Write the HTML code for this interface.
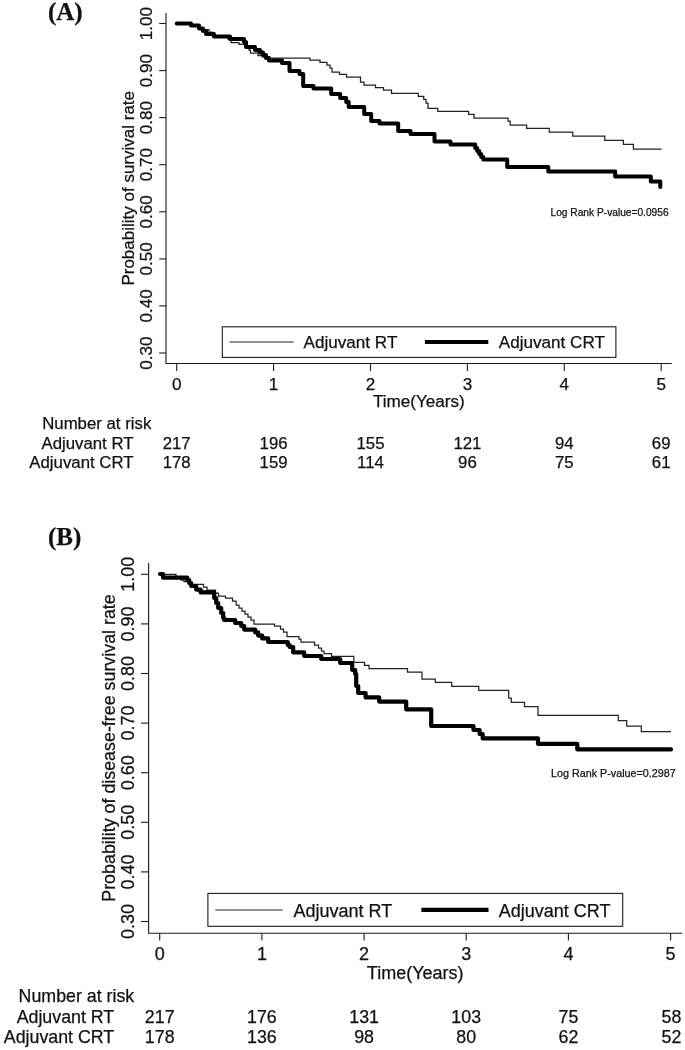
<!DOCTYPE html>
<html><head><meta charset="utf-8"><title>Kaplan-Meier survival curves</title>
<style>
html,body{margin:0;padding:0;background:#fff;}
svg{display:block;}
svg text{font-family:"Liberation Sans",Arial,sans-serif;fill:#111;stroke:#111;stroke-width:0.25px;}
</style></head>
<body>
<svg width="685" height="1050" viewBox="0 0 685 1050">
<rect width="685" height="1050" fill="#fff"/>
<g fill="none" stroke="#1a1a1a" stroke-width="1.1">
<path d="M166,13 V363.5 H671.7"/>
<path d="M159.2,23.5 H166"/>
<path d="M159.2,70.6 H166"/>
<path d="M159.2,117.6 H166"/>
<path d="M159.2,164.7 H166"/>
<path d="M159.2,211.8 H166"/>
<path d="M159.2,258.9 H166"/>
<path d="M159.2,305.9 H166"/>
<path d="M159.2,353.0 H166"/>
<path d="M176.7,363.5 V371"/>
<path d="M273.6,363.5 V371"/>
<path d="M370.5,363.5 V371"/>
<path d="M467.4,363.5 V371"/>
<path d="M564.3,363.5 V371"/>
<path d="M661.2,363.5 V371"/>
<rect x="222.3" y="326.8" width="393.6" height="30.6"/>
</g>
<path d="M176.7,23.5 L191.0,23.5 L191.0,25.6 L199.0,25.6 L199.0,28.4 L203.0,28.4 L203.0,29.6 L209.0,29.6 L209.0,32.0 L212.0,32.0 L212.0,34.0 L214.0,34.0 L214.0,36.4 L228.0,36.4 L228.0,39.0 L231.0,39.0 L231.0,42.6 L239.0,42.6 L239.0,44.4 L246.0,44.4 L246.0,47.0 L249.0,47.0 L249.0,50.0 L250.5,50.0 L250.5,53.0 L258.0,53.0 L258.0,55.5 L262.5,55.5 L262.5,57.0 L266.5,57.0 L266.5,58.0 L310.0,58.0 L310.0,60.0 L320.0,60.0 L320.0,62.4 L327.0,62.4 L327.0,65.0 L330.0,65.0 L330.0,68.0 L332.0,68.0 L332.0,72.0 L339.5,72.0 L339.5,74.4 L346.5,74.4 L346.5,77.0 L360.5,77.0 L360.5,82.0 L364.0,82.0 L364.0,85.0 L375.5,85.0 L375.5,87.6 L383.5,87.6 L383.5,90.0 L391.5,90.0 L391.5,93.4 L418.3,93.4 L418.3,96.4 L423.7,96.4 L423.7,99.4 L426.0,99.4 L426.0,103.0 L428.0,103.0 L428.0,108.4 L437.8,108.4 L437.8,111.4 L468.6,111.4 L468.6,114.4 L474.0,114.4 L474.0,118.0 L508.0,118.0 L508.0,121.0 L510.2,121.0 L510.2,125.0 L526.6,125.0 L526.6,128.4 L549.2,128.4 L549.2,132.0 L572.8,132.0 L572.8,136.0 L604.8,136.0 L604.8,140.4 L623.4,140.4 L623.4,144.4 L633.4,144.4 L633.4,149.2 L661.6,149.2" fill="none" stroke="#222" stroke-width="1.25"/>
<path d="M176.7,23.6 L191.0,23.6 L191.0,25.6 L199.0,25.6 L199.0,28.4 L203.0,28.4 L203.0,31.0 L206.0,31.0 L206.0,34.0 L214.0,34.0 L214.0,36.4 L230.0,36.4 L230.0,39.0 L244.0,39.0 L244.0,42.0 L246.0,42.0 L246.0,47.0 L255.0,47.0 L255.0,50.0 L260.0,50.0 L260.0,52.4 L263.0,52.4 L263.0,55.0 L266.0,55.0 L266.0,58.0 L269.0,58.0 L269.0,60.4 L282.0,60.4 L282.0,63.0 L289.5,63.0 L289.5,71.0 L299.5,71.0 L299.5,74.0 L302.0,74.0 L303.2,74.0 L303.2,86.0 L313.5,86.0 L313.5,88.6 L330.5,88.6 L331.2,88.6 L331.2,94.0 L339.5,94.0 L340.2,94.0 L340.2,98.0 L345.5,98.0 L346.2,98.0 L346.2,102.0 L348.7,102.0 L348.7,107.0 L363.5,107.0 L364.2,107.0 L364.2,114.0 L370.5,114.0 L371.2,114.0 L371.2,121.0 L379.5,121.0 L379.5,123.6 L397.5,123.6 L398.2,123.6 L398.2,131.0 L410.5,131.0 L410.5,134.0 L434.5,134.0 L434.5,141.4 L450.5,141.4 L450.5,144.6 L474.0,144.6 L475.2,144.6 L475.2,148.0 L477.2,148.0 L477.2,151.0 L479.2,151.0 L479.2,154.0 L481.2,154.0 L481.2,157.0 L483.2,157.0 L483.2,159.6 L506.5,159.6 L507.2,159.6 L507.2,167.0 L548.3,167.0 L548.3,171.6 L615.2,171.6 L615.2,176.4 L650.8,176.4 L650.8,181.6 L660.3,181.6 L660.3,187.0" fill="none" stroke="#000" stroke-width="4" stroke-linejoin="round" stroke-linecap="round"/>
<path d="M229.5,342 H293.6" stroke="#222" stroke-width="1.1"/>
<path d="M424.9,342 H488.3" stroke="#000" stroke-width="4"/>
<text transform="translate(152.1,23.5) rotate(-90)" text-anchor="middle" font-size="17.1">1.00</text>
<text transform="translate(152.1,70.6) rotate(-90)" text-anchor="middle" font-size="17.1">0.90</text>
<text transform="translate(152.1,117.6) rotate(-90)" text-anchor="middle" font-size="17.1">0.80</text>
<text transform="translate(152.1,164.7) rotate(-90)" text-anchor="middle" font-size="17.1">0.70</text>
<text transform="translate(152.1,211.8) rotate(-90)" text-anchor="middle" font-size="17.1">0.60</text>
<text transform="translate(152.1,258.9) rotate(-90)" text-anchor="middle" font-size="17.1">0.50</text>
<text transform="translate(152.1,305.9) rotate(-90)" text-anchor="middle" font-size="17.1">0.40</text>
<text transform="translate(152.1,353.0) rotate(-90)" text-anchor="middle" font-size="17.1">0.30</text>
<text transform="translate(133.6,188.3) rotate(-90)" text-anchor="middle" font-size="17">Probability of survival rate</text>
<text x="176.7" y="390.1" text-anchor="middle" font-size="17.1">0</text>
<text x="273.6" y="390.1" text-anchor="middle" font-size="17.1">1</text>
<text x="370.5" y="390.1" text-anchor="middle" font-size="17.1">2</text>
<text x="467.4" y="390.1" text-anchor="middle" font-size="17.1">3</text>
<text x="564.3" y="390.1" text-anchor="middle" font-size="17.1">4</text>
<text x="661.2" y="390.1" text-anchor="middle" font-size="17.1">5</text>
<text x="418.8" y="407.3" text-anchor="middle" font-size="17.1">Time(Years)</text>
<text x="303.6" y="348.3" font-size="17.1">Adjuvant RT</text>
<text x="498.8" y="348.3" font-size="17.1">Adjuvant CRT</text>
<text x="550.5" y="215.8" font-size="10.2">Log Rank P-value=0.0956</text>
<text x="42.2" y="429.4" font-size="16.8">Number at risk</text>
<text x="133.5" y="448.7" text-anchor="end" font-size="16.8">Adjuvant RT</text>
<text x="133.5" y="468" text-anchor="end" font-size="16.8">Adjuvant CRT</text>
<text x="176.7" y="448.7" text-anchor="middle" font-size="16.8">217</text>
<text x="176.7" y="468" text-anchor="middle" font-size="16.8">178</text>
<text x="273.6" y="448.7" text-anchor="middle" font-size="16.8">196</text>
<text x="273.6" y="468" text-anchor="middle" font-size="16.8">159</text>
<text x="370.5" y="448.7" text-anchor="middle" font-size="16.8">155</text>
<text x="370.5" y="468" text-anchor="middle" font-size="16.8">114</text>
<text x="467.4" y="448.7" text-anchor="middle" font-size="16.8">121</text>
<text x="467.4" y="468" text-anchor="middle" font-size="16.8">96</text>
<text x="564.3" y="448.7" text-anchor="middle" font-size="16.8">94</text>
<text x="564.3" y="468" text-anchor="middle" font-size="16.8">75</text>
<text x="661.2" y="448.7" text-anchor="middle" font-size="16.8">69</text>
<text x="661.2" y="468" text-anchor="middle" font-size="16.8">61</text>
<text x="47.9" y="19.7" font-size="25" style="font-family:'Liberation Serif',serif;font-weight:bold">(A)</text>
<g fill="none" stroke="#1a1a1a" stroke-width="1.1">
<path d="M148.6,563 V933.2 H682.2"/>
<path d="M141,574.3 H148.6"/>
<path d="M141,623.9 H148.6"/>
<path d="M141,673.5 H148.6"/>
<path d="M141,723.1 H148.6"/>
<path d="M141,772.7 H148.6"/>
<path d="M141,822.3 H148.6"/>
<path d="M141,871.9 H148.6"/>
<path d="M141,921.5 H148.6"/>
<path d="M159.7,933.2 V940.4"/>
<path d="M261.9,933.2 V940.4"/>
<path d="M364.1,933.2 V940.4"/>
<path d="M466.2,933.2 V940.4"/>
<path d="M568.4,933.2 V940.4"/>
<path d="M670.6,933.2 V940.4"/>
<rect x="207.9" y="893.4" width="414.8" height="32.9"/>
</g>
<path d="M160.0,574.4 L176.0,574.4 L176.0,577.0 L181.0,577.0 L181.0,580.0 L184.0,580.0 L184.0,581.6 L189.0,581.6 L189.0,584.4 L203.5,584.4 L203.5,587.0 L207.0,587.0 L207.0,590.0 L215.5,590.0 L215.5,593.0 L218.5,593.0 L218.5,596.0 L225.5,596.0 L225.5,598.0 L232.5,598.0 L232.5,601.0 L236.0,601.0 L236.2,601.0 L236.2,605.0 L239.0,605.0 L239.0,608.0 L242.0,608.0 L242.0,611.0 L245.0,611.0 L245.0,614.0 L248.0,614.0 L248.0,617.0 L251.0,617.0 L251.0,620.0 L254.0,620.0 L254.0,624.0 L274.5,624.0 L274.5,626.0 L280.5,626.0 L280.5,629.0 L283.5,629.0 L283.5,632.0 L287.0,632.0 L287.0,636.6 L299.0,636.6 L299.0,639.0 L301.0,639.0 L301.0,642.0 L314.5,642.0 L314.5,645.0 L318.5,645.0 L318.5,648.0 L321.5,648.0 L321.5,651.0 L324.0,651.0 L324.0,653.6 L331.5,653.6 L331.5,656.4 L353.8,656.4 L353.8,662.4 L364.5,662.4 L364.5,665.4 L369.0,665.4 L369.0,668.6 L407.5,668.6 L407.5,672.0 L422.0,672.0 L422.0,679.0 L435.3,679.0 L435.3,682.4 L451.7,682.4 L451.7,686.4 L478.7,686.4 L478.7,690.4 L508.7,690.4 L508.7,698.0 L511.3,698.0 L511.3,702.4 L524.5,702.4 L524.5,706.6 L538.0,706.6 L538.0,715.3 L618.3,715.3 L618.3,720.6 L626.7,720.6 L626.7,726.0 L641.3,726.0 L641.3,731.6 L671.0,731.6" fill="none" stroke="#222" stroke-width="1.25"/>
<path d="M160.0,574.0 L163.0,574.0 L163.0,577.6 L186.5,577.6 L187.2,577.6 L187.2,580.0 L189.2,580.0 L189.2,583.0 L191.2,583.0 L191.2,586.0 L195.5,586.0 L196.2,586.0 L196.2,589.6 L200.0,589.6 L200.6,589.6 L200.6,592.4 L214.0,592.4 L214.2,592.4 L214.2,598.0 L216.2,598.0 L216.2,603.0 L218.2,603.0 L218.2,608.0 L221.2,608.0 L221.2,613.0 L223.2,613.0 L223.2,618.0 L224.2,618.0 L224.2,620.0 L234.5,620.0 L235.2,620.0 L235.2,623.0 L240.5,623.0 L241.2,623.0 L241.2,626.0 L244.2,626.0 L244.2,629.6 L254.5,629.6 L255.2,629.6 L255.2,632.4 L258.2,632.4 L258.2,635.6 L262.2,635.6 L262.2,638.4 L268.2,638.4 L268.2,642.0 L287.0,642.0 L287.8,642.0 L287.8,645.0 L289.7,645.0 L289.7,647.0 L292.0,647.0 L293.2,647.0 L293.2,652.4 L303.5,652.4 L304.2,652.4 L304.2,656.0 L320.5,656.0 L321.2,656.0 L321.2,659.0 L339.5,659.0 L340.2,659.0 L340.2,663.0 L351.5,663.0 L352.2,663.0 L352.2,670.0 L355.2,670.0 L355.2,674.0 L356.2,674.0 L356.2,686.0 L358.2,686.0 L358.2,693.0 L365.0,693.0 L365.6,693.0 L365.6,697.4 L378.5,697.4 L379.2,697.4 L379.2,701.6 L405.5,701.6 L406.2,701.6 L406.2,709.3 L430.0,709.3 L431.2,709.3 L431.2,726.0 L473.5,726.0 L473.5,730.0 L479.5,730.0 L479.6,730.0 L479.6,734.0 L482.7,734.0 L482.7,738.4 L538.0,738.4 L538.0,743.8 L577.3,743.8 L577.3,749.4 L671.0,749.4" fill="none" stroke="#000" stroke-width="4.2" stroke-linejoin="round" stroke-linecap="round"/>
<path d="M215.3,910 H282.8" stroke="#222" stroke-width="1.1"/>
<path d="M421.4,909.9 H488.5" stroke="#000" stroke-width="4.2"/>
<text transform="translate(134.2,574.3) rotate(-90)" text-anchor="middle" font-size="18">1.00</text>
<text transform="translate(134.2,623.9) rotate(-90)" text-anchor="middle" font-size="18">0.90</text>
<text transform="translate(134.2,673.5) rotate(-90)" text-anchor="middle" font-size="18">0.80</text>
<text transform="translate(134.2,723.1) rotate(-90)" text-anchor="middle" font-size="18">0.70</text>
<text transform="translate(134.2,772.7) rotate(-90)" text-anchor="middle" font-size="18">0.60</text>
<text transform="translate(134.2,822.3) rotate(-90)" text-anchor="middle" font-size="18">0.50</text>
<text transform="translate(134.2,871.9) rotate(-90)" text-anchor="middle" font-size="18">0.40</text>
<text transform="translate(134.2,921.5) rotate(-90)" text-anchor="middle" font-size="18">0.30</text>
<text transform="translate(114.8,748) rotate(-90)" text-anchor="middle" font-size="17.85">Probability of disease-free survival rate</text>
<text x="159.7" y="960.2" text-anchor="middle" font-size="18">0</text>
<text x="261.9" y="960.2" text-anchor="middle" font-size="18">1</text>
<text x="364.1" y="960.2" text-anchor="middle" font-size="18">2</text>
<text x="466.2" y="960.2" text-anchor="middle" font-size="18">3</text>
<text x="568.4" y="960.2" text-anchor="middle" font-size="18">4</text>
<text x="670.6" y="960.2" text-anchor="middle" font-size="18">5</text>
<text x="415.2" y="978.6" text-anchor="middle" font-size="18">Time(Years)</text>
<text x="293.5" y="916.7" font-size="18">Adjuvant RT</text>
<text x="498.8" y="916.7" font-size="18">Adjuvant CRT</text>
<text x="551.1" y="777" font-size="10.75">Log Rank P-value=0.2987</text>
<text x="18.6" y="1002.2" font-size="17.8">Number at risk</text>
<text x="114.2" y="1022.6" text-anchor="end" font-size="17.8">Adjuvant RT</text>
<text x="114.2" y="1042.8" text-anchor="end" font-size="17.8">Adjuvant CRT</text>
<text x="159.7" y="1022.6" text-anchor="middle" font-size="17.8">217</text>
<text x="159.7" y="1042.8" text-anchor="middle" font-size="17.8">178</text>
<text x="261.9" y="1022.6" text-anchor="middle" font-size="17.8">176</text>
<text x="261.9" y="1042.8" text-anchor="middle" font-size="17.8">136</text>
<text x="364.1" y="1022.6" text-anchor="middle" font-size="17.8">131</text>
<text x="364.1" y="1042.8" text-anchor="middle" font-size="17.8">98</text>
<text x="466.2" y="1022.6" text-anchor="middle" font-size="17.8">103</text>
<text x="466.2" y="1042.8" text-anchor="middle" font-size="17.8">80</text>
<text x="568.4" y="1022.6" text-anchor="middle" font-size="17.8">75</text>
<text x="568.4" y="1042.8" text-anchor="middle" font-size="17.8">62</text>
<text x="671.4" y="1022.6" text-anchor="middle" font-size="17.8">58</text>
<text x="671.4" y="1042.8" text-anchor="middle" font-size="17.8">52</text>
<text x="47.9" y="544.9" font-size="25" style="font-family:'Liberation Serif',serif;font-weight:bold">(B)</text>
</svg>
</body></html>
